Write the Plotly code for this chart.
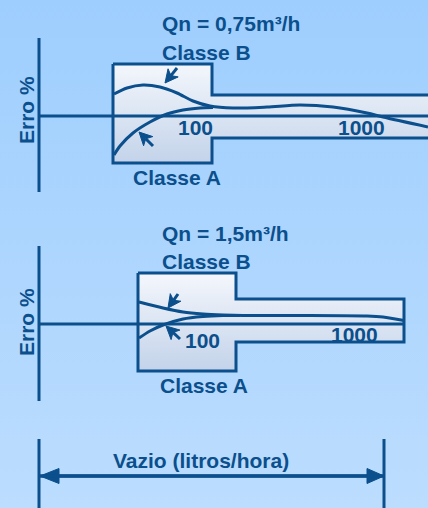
import numpy as np
import plotly.graph_objects as go

W, H = 428, 508
LINE = "#0B4F8C"
TEXT = "#0B4F8C"
BG_TOP, BG_BOT = "#9ECEFE", "#BCDDFE"
BOX_TOP, BOX_BOT = "#F4F7FC", "#C3D3EA"
FONT = "Liberation Sans"

# ---------- panel 1 (Qn = 0,75) ----------
p1_axis_x = [39, 39]
p1_axis_y = [38, 192]
p1_zero_x = [39, 440]
p1_zero_y = [116, 116]
p1_env_x = [113, 212, 212, 440, 440, 212, 212, 113, 113]
p1_env_y = [64, 64, 95, 95, 138, 138, 163, 163, 64]
p1_B_x = [114, 127, 143, 160, 177, 193, 210, 233, 267, 300, 333, 367, 383, 428]
p1_B_y = [94, 88, 85, 87, 93, 101, 106, 108, 107, 105, 107, 113, 117, 127]
p1_A_x = [114, 120, 133, 150, 167, 183, 200, 213]
p1_A_y = [155, 146, 133, 122, 114, 110, 108, 107.5]
p1_arrows = [((177, 68), (165, 83)), ((153, 146), (139, 132))]
p1_labels = [("Qn = 0,75m³/h", 231, 23, 0), ("Classe B", 206, 52, 0),
             ("100", 195, 127, 0), ("1000", 361, 127, 0),
             ("Classe A", 177, 177, 0), ("Erro %", 26, 110, -90)]

# ---------- panel 2 (Qn = 1,5) ----------
p2_axis_x = [39, 39]
p2_axis_y = [246, 401]
p2_zero_x = [39, 404]
p2_zero_y = [324, 324]
p2_env_x = [138, 236, 236, 404, 404, 236, 236, 138, 138]
p2_env_y = [273, 273, 299, 299, 342, 342, 371, 371, 273]
p2_B_x = [139, 163, 183, 203, 223, 243, 300, 367, 383, 404]
p2_B_y = [302, 308, 312, 314, 315, 315.5, 315.5, 316, 317, 320.5]
p2_A_x = [139, 150, 163, 183, 203, 223, 240]
p2_A_y = [338, 331, 325, 319, 316.5, 315.5, 315.5]
p2_arrows = [((178, 294), (168, 308)), ((180, 339), (166, 326))]
p2_labels = [("Qn = 1,5m³/h", 225, 233, 0), ("Classe B", 206, 261, 0),
             ("100", 202, 340, 0), ("1000", 354, 334, 0),
             ("Classe A", 204, 385, 0), ("Erro %", 26, 322, -90)]

# ---------- dimension (Vazio) ----------
dim_left_x = [39, 39]
dim_right_x = [384, 384]
dim_tick_y = [439, 510]
dim_line_x = [40, 384]
dim_line_y = [476, 476]
dim_label = ("Vazio (litros/hora)", 201, 460)

fig = go.Figure()

# background gradient (reversed y axis: colorscale 0 = largest y = bottom)
fig.add_trace(go.Scatter(x=[-5, W + 5, W + 5, -5, -5], y=[-5, -5, H + 5, H + 5, -5],
                         mode="lines", line=dict(width=0), fill="toself",
                         fillgradient=dict(type="vertical", colorscale=[[0, BG_BOT], [1, BG_TOP]]),
                         hoverinfo="skip", showlegend=False))


def add_line(x, y, shape="linear", width=3):
    fig.add_trace(go.Scatter(x=x, y=y, mode="lines",
                             line=dict(color=LINE, width=width, shape=shape, smoothing=0.8),
                             hoverinfo="skip", showlegend=False))


def add_env(x, y):
    fig.add_trace(go.Scatter(x=x, y=y, mode="lines", fill="toself",
                             line=dict(color=LINE, width=3),
                             fillgradient=dict(type="vertical",
                                               colorscale=[[0, BOX_BOT], [1, BOX_TOP]]),
                             hoverinfo="skip", showlegend=False))


def add_arrow(tail, tip, head_len=13, half_w=6.5, notch=3.5, width=3):
    tx, ty = tail
    hx, hy = tip
    d = np.array([hx - tx, hy - ty], dtype=float)
    L = np.hypot(*d)
    u = d / L
    n = np.array([-u[1], u[0]])
    tipv = np.array([hx, hy], dtype=float)
    base = tipv - u * head_len
    notchp = tipv - u * (head_len - notch)
    p1 = base + n * half_w
    p2 = base - n * half_w
    add_line([tx, notchp[0]], [ty, notchp[1]], width=width)
    fig.add_trace(go.Scatter(x=[tipv[0], p1[0], notchp[0], p2[0], tipv[0]],
                             y=[tipv[1], p1[1], notchp[1], p2[1], tipv[1]],
                             mode="lines", fill="toself", fillcolor=LINE,
                             line=dict(color=LINE, width=1),
                             hoverinfo="skip", showlegend=False))


def add_label(txt, x, y, angle=0, size=21):
    fig.add_annotation(x=x, y=y, xref="x", yref="y", text=txt, showarrow=False,
                       textangle=angle, xanchor="center", yanchor="middle",
                       font=dict(family=FONT, size=size, color=TEXT, weight="bold"))


# panel 1
add_env(p1_env_x, p1_env_y)
add_line(p1_axis_x, p1_axis_y)
add_line(p1_zero_x, p1_zero_y)
add_line(p1_B_x, p1_B_y, shape="spline")
add_line(p1_A_x, p1_A_y, shape="spline")
for tail, tip in p1_arrows:
    add_arrow(tail, tip)
for t, x, y, a in p1_labels:
    add_label(t, x, y, a)

# panel 2
add_env(p2_env_x, p2_env_y)
add_line(p2_axis_x, p2_axis_y)
add_line(p2_zero_x, p2_zero_y)
add_line(p2_B_x, p2_B_y, shape="spline")
add_line(p2_A_x, p2_A_y, shape="spline")
for tail, tip in p2_arrows:
    add_arrow(tail, tip)
for t, x, y, a in p2_labels:
    add_label(t, x, y, a)

# dimension
add_line(dim_left_x, dim_tick_y)
add_line(dim_right_x, dim_tick_y)
add_line(dim_line_x, dim_line_y)
add_arrow((dim_line_x[1], dim_line_y[1]), (dim_line_x[0], dim_line_y[0]),
          head_len=19, half_w=7.5, notch=0)
add_arrow((dim_line_x[0], dim_line_y[0]), (dim_line_x[1], dim_line_y[1]),
          head_len=17, half_w=7.5, notch=0)
add_label(dim_label[0], dim_label[1], dim_label[2])

fig.update_layout(
    width=W, height=H, margin=dict(l=0, r=0, t=0, b=0),
    paper_bgcolor=BG_BOT, plot_bgcolor=BG_BOT,
    xaxis=dict(range=[0, W], visible=False, fixedrange=True),
    yaxis=dict(range=[H, 0], visible=False, fixedrange=True),
    showlegend=False,
)

fig.write_html("out.html", config={"displayModeBar": False},
               post_script="document.body.style.margin='0';document.body.style.padding='0';")
